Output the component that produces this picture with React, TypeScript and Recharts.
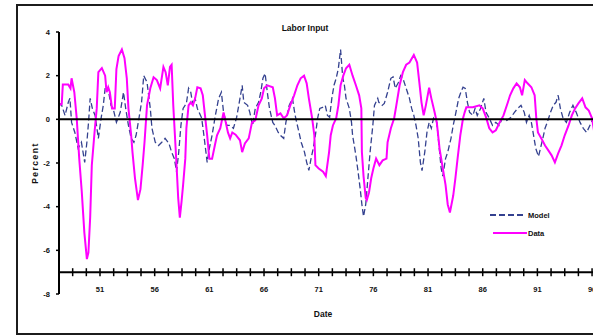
import React from "react";
import { LineChart, Line, XAxis, YAxis, ReferenceLine } from "recharts";

const modelYears = [
  47.2, 47.5, 47.8, 48.1, 48.25, 48.4, 48.7, 49.0, 49.3, 49.6, 49.8, 49.95, 50.1, 50.3, 50.55, 50.85,
  51.1, 51.3, 51.5, 51.8, 52.0, 52.2, 52.5, 52.85, 53.15, 53.35, 53.6, 53.85, 54.1, 54.3, 54.5, 54.8,
  55.0, 55.3, 55.45, 55.6, 55.75, 56.05, 56.35, 56.65, 56.95, 57.3, 57.55, 57.8, 58.0, 58.2, 58.4, 58.6,
  58.9, 59.1, 59.3, 59.5, 59.7, 59.9, 60.3, 60.5, 60.8, 61.0, 61.25, 61.55, 61.85, 62.1, 62.3, 62.6,
  62.9, 63.2, 63.5, 63.85, 64.0, 64.15, 64.5, 64.7, 64.95, 65.2, 65.5, 65.7, 65.9, 66.1, 66.3, 66.5,
  66.8, 67.0, 67.3, 67.5, 67.8, 68.0, 68.3, 68.6, 68.8, 68.9, 69.2, 69.4, 69.7, 69.9, 70.1, 70.3,
  70.5, 70.7, 70.9, 71.1, 71.35, 71.6, 71.8, 72.0, 72.2, 72.4, 72.6, 72.8, 73.0, 73.2, 73.35, 73.5,
  73.8, 74.0, 74.1, 74.4, 74.6, 74.8, 74.95, 75.1, 75.3, 75.5, 75.7, 75.95, 76.1, 76.4, 76.5, 76.8,
  77.0, 77.3, 77.6, 77.8, 78.0, 78.3, 78.5, 78.7, 79.0, 79.3, 79.5, 79.7, 79.9, 80.1, 80.3, 80.45,
  80.7, 80.9, 81.1, 81.3, 81.5, 81.8, 82.0, 82.2, 82.35, 82.6, 82.8, 83.1, 83.3, 83.55, 83.8, 84.0,
  84.2, 84.4, 84.6, 84.8, 85.1, 85.3, 85.5, 85.8, 86.1, 86.3, 86.6, 86.9, 87.2, 87.5, 87.8, 88.2,
  88.6, 88.9, 89.2, 89.5, 89.8, 90.0, 90.25, 90.45, 90.65, 90.85, 91.1, 91.2, 91.5, 91.7, 91.9, 92.2,
  92.45, 92.7, 92.9, 93.1, 93.35, 93.65, 93.95, 94.25, 94.55, 94.9, 95.2, 95.5, 95.8, 96.1, 96.3, 96.9,
];
const modelValues = [
  0.78, 0.64, 0.18, 0.78, 0.96, -0.14, -0.6, -1.33, -1.05, -1.97, -1.05, -0.14, 0.96, 0.5, 0.18, -0.87,
  0.05, 0.64, 1.56, 1.24, 0.64, 0.5, -0.14, 0.32, 1.24, 0.5, -0.28, -0.87, -1.05, -0.73, -0.14, 0.78,
  2.0, 1.7, 1.1, 0.5, -0.41, -1.05, -1.2, -1.05, -0.87, -1.1, -1.5, -1.8, -2.4, -1.5, -0.28, 0.5,
  0.73, 1.42, 1.24, 0.64, 0.96, 0.5, 0.05, -0.73, -1.97, -1.33, -0.73, 0.18, 0.96, 1.24, 0.32, -0.28,
  -0.28, -0.41, 0.1, 1.1, 1.56, 0.78, 0.64, 0.32, -0.28, 0.5, 0.78, 1.24, 1.88, 2.1, 1.24, 0.5,
  -0.14, -0.28, -0.6, -0.73, -0.87, -0.14, 0.64, 0.96, 0.32, 0.05, -0.6, -1.05, -1.5, -1.97, -2.34, -1.8,
  -1.33, -0.73, 0.05, 0.5, 0.55, 0.64, 0.18, 0.1, 0.96, 1.56, 1.88, 2.34, 3.2, 1.9, 1.56, 0.96,
  0.5, -0.14, -0.73, -1.65, -2.4, -3.2, -3.9, -4.45, -3.9, -2.7, -1.5, -0.28, 0.64, 0.96, 0.78, 0.64,
  0.73, 1.24, 1.88, 1.95, 1.42, 1.7, 2.0, 1.88, 1.42, 0.96, 0.5, 0.18, -0.28, -0.87, -1.97, -2.35,
  -1.5, -0.6, -0.14, -0.41, 0.05, -0.14, -1.2, -2.25, -2.6, -1.8, -1.5, -0.87, -0.28, 0.32, 0.96, 1.24,
  1.47, 1.42, 0.78, 0.32, 0.18, 0.5, 0.18, 0.5, 0.96, 0.32, 0.05, -0.28, -0.14, -0.28, 0.05, -0.05,
  0.1, 0.32, 0.5, 0.64, 0.32, -0.14, 0.18, -0.14, -0.73, -1.33, -1.7, -1.5, -0.87, -0.41, -0.14, 0.32,
  0.64, 0.78, 1.1, 0.5, 0.05, -0.14, 0.32, 0.64, 0.32, -0.14, -0.41, -0.6, -0.28, 0.05, -0.14, 0.2,
];

const dataYears = [
  47.2, 47.5, 47.6, 48.1, 48.3, 48.4, 48.65, 48.87, 49.1, 49.33, 49.57, 49.8, 49.94, 50.1, 50.25, 50.5,
  50.7, 50.85, 51.17, 51.47, 51.6, 51.75, 51.9, 52.1, 52.35, 52.5, 52.7, 53.0, 53.24, 53.45, 53.6, 53.85,
  53.97, 54.2, 54.47, 54.7, 54.9, 55.07, 55.3, 55.6, 55.9, 56.2, 56.5, 56.8, 57.0, 57.2, 57.4, 57.55,
  57.7, 57.85, 58.0, 58.15, 58.3, 58.45, 58.6, 58.8, 58.9, 59.1, 59.3, 59.5, 59.7, 59.9, 60.2, 60.4,
  60.6, 60.8, 61.0, 61.25, 61.5, 61.7, 62.0, 62.3, 62.5, 62.7, 62.9, 63.1, 63.4, 63.8, 64.0, 64.25,
  64.6, 64.9, 65.2, 65.5, 65.8, 66.0, 66.3, 66.8, 67.0, 67.2, 67.5, 67.8, 68.1, 68.4, 68.75, 69.05,
  69.35, 69.66, 69.9, 70.1, 70.4, 70.6, 70.7, 71.0, 71.4, 71.65, 71.95, 72.1, 72.3, 72.6, 72.8, 73.0,
  73.25, 73.5, 73.8, 74.1, 74.4, 74.7, 74.9, 74.95, 75.1, 75.3, 75.4, 75.6, 75.8, 76.0, 76.25, 76.55,
  76.85, 77.2, 77.3, 77.6, 77.9, 78.1, 78.4, 78.7, 79.0, 79.3, 79.7, 80.0, 80.2, 80.4, 80.6, 80.8,
  81.1, 81.3, 81.6, 81.8, 82.05, 82.3, 82.6, 82.8, 83.0, 83.3, 83.5, 83.7, 83.95, 84.2, 84.35, 84.5,
  85.1, 85.7, 86.0, 86.3, 86.6, 86.9, 87.2, 87.55, 87.9, 88.3, 88.5, 88.8, 89.1, 89.4, 89.6, 89.85,
  90.1, 90.45, 90.75, 90.9, 91.05, 91.35, 91.7, 92.0, 92.3, 92.6, 92.9, 93.2, 93.5, 93.85, 94.15, 94.45,
  94.75, 95.1, 95.4, 95.7, 96.0, 96.2, 96.6,
];
const dataValues = [
  0.64, 0.7, 1.59, 1.59, 1.42, 1.88, 1.24, 0.05, -1.8, -3.3, -5.2, -6.4, -6.1, -4.5, -2.1, -0.6,
  0.5, 2.16, 2.35, 2.0, 1.24, 1.47, 1.24, 0.5, 0.5, 2.3, 2.9, 3.2, 2.8, 1.88, 0.5, -0.73,
  -1.5, -2.7, -3.7, -3.2, -2.1, -1.05, 0.64, 1.42, 1.93, 1.8, 1.42, 2.4, 2.16, 1.56, 2.4, 2.5,
  0.64, -0.73, -2.1, -3.6, -4.5, -3.8, -3.0, -1.8, -0.4, 0.64, 0.78, 0.64, 0.96, 1.47, 1.42, 1.1,
  0.18, -0.73, -1.8, -1.8, -1.2, -0.73, -0.41, 0.32, -0.14, -0.6, -0.87, -0.6, -0.7, -0.96, -1.5, -1.1,
  -0.87, -0.14, -0.05, 0.64, 0.96, 1.42, 1.56, 1.47, 0.96, 0.18, 0.27, 0.05, 0.18, 0.64, 1.1, 1.56,
  1.88, 2.0, 1.65, 0.96, 0.05, -0.73, -2.1, -2.25, -2.4, -2.6, -1.5, -0.73, -0.28, 0.05, 0.64, 1.56,
  2.0, 2.34, 2.5, 2.0, 1.56, 1.1, 0.5, -1.5, -2.6, -3.6, -3.7, -3.35, -2.7, -2.25, -1.8, -2.1,
  -1.88, -1.8, -1.05, -0.41, 0.05, 0.64, 1.56, 2.16, 2.5, 2.6, 2.95, 2.6, 1.7, 0.78, 0.18, 0.64,
  1.45, 0.96, 0.32, -0.14, -1.33, -2.1, -3.0, -3.9, -4.27, -3.5, -2.7, -1.8, -0.73, 0.05, 0.32, 0.55,
  0.55, 0.64, 0.5, 0.1, -0.41, -0.6, -0.5, -0.14, 0.18, 0.78, 1.1, 1.42, 1.65, 1.47, 1.1, 1.8,
  1.65, 1.47, 1.1, 0.05, -0.6, -0.87, -1.2, -1.42, -1.65, -1.97, -1.56, -1.2, -0.73, -0.28, 0.18, 0.5,
  0.73, 0.96, 0.55, 0.4, 0.05, -0.6, -0.5,
];

const yTicks = [-8, -6, -4, -2, 0, 2, 4];
// minor ticks every 5 quarters, labels every 5 years starting at 51
const xTicks = Array.from({ length: 40 }, (_, i) => 47.25 + i * 1.25).slice(1);

const modelSeries = modelYears.map((year, i) => ({ year, value: modelValues[i] }));
const dataSeries = dataYears.map((year, i) => ({ year, value: dataValues[i] }));

const FONT = '"Liberation Sans", Arial, sans-serif';
const AXIS_OFFSET = 21.8; // px between -8 (plot bottom) and -7 where the date axis sits

const XTick = (props: any) => {
  const { x, y, payload } = props;
  const v = payload.value;
  const k = (v - 51) / 5;
  const labelled = Math.abs(k - Math.round(k)) < 1e-6;
  const ay = y - AXIS_OFFSET;
  return (
    <g>
      <line x1={x} x2={x} y1={ay - 4} y2={ay + 4} stroke="#000" strokeWidth={1.5} />
      {labelled && (
        <text x={x} y={ay + 20} textAnchor="middle" fontSize={7.5} fontWeight="bold" fontFamily={FONT} fill="#111">
          {Math.round(v)}
        </text>
      )}
    </g>
  );
};

export default function App() {
  return (
    <div style={{ position: "relative", width: 593, height: 336, overflow: "hidden", background: "#fff" }}>
      <style>{"body{margin:0}"}</style>
      <div
        style={{
          position: "absolute",
          left: 16,
          top: 4,
          width: 640,
          height: 331,
          border: "2px solid #1c1c1c",
          boxSizing: "border-box",
        }}
      />
      <div style={{ position: "absolute", left: 0, top: 0 }}>
        <LineChart width={620} height={336} margin={{ top: 32, right: 17, bottom: 12, left: 19 }}>
          <XAxis
            dataKey="year"
            type="number"
            domain={[47.25, 97]}
            ticks={xTicks}
            interval={0}
            allowDataOverflow
            axisLine={false}
            tickLine={false}
            tickSize={0}
            tickMargin={0}
            height={30}
            tick={<XTick />}
          />
          <YAxis
            type="number"
            domain={[-8, 4]}
            ticks={yTicks}
            interval={0}
            width={40}
            axisLine={{ stroke: "#000", strokeWidth: 2 }}
            tickLine={{ stroke: "#000", strokeWidth: 1.5 }}
            tickSize={3}
            tickMargin={6}
            tick={{ fontSize: 7.5, fontWeight: "bold", fill: "#111", fontFamily: FONT }}
          />
          <ReferenceLine y={-7} stroke="#000" strokeWidth={2} />
          <Line
            data={modelSeries}
            dataKey="value"
            type="linear"
            stroke="#34418f"
            strokeWidth={1.3}
            strokeDasharray="6 3"
            dot={false}
            isAnimationActive={false}
          />
          <Line
            data={dataSeries}
            dataKey="value"
            type="linear"
            stroke="#ff00ff"
            strokeWidth={2}
            dot={false}
            isAnimationActive={false}
          />
          <ReferenceLine y={0} stroke="#000" strokeWidth={2} />
        </LineChart>
      </div>
      <div
        style={{
          position: "absolute",
          left: 305,
          top: 23,
          transform: "translateX(-50%)",
          fontFamily: FONT,
          fontSize: 8.5,
          fontWeight: "bold",
          color: "#111",
          whiteSpace: "nowrap",
        }}
      >
        Labor Input
      </div>
      <div
        style={{
          position: "absolute",
          left: 323,
          top: 309,
          transform: "translateX(-50%)",
          fontFamily: FONT,
          fontSize: 8.5,
          fontWeight: "bold",
          color: "#111",
        }}
      >
        Date
      </div>
      <div
        style={{
          position: "absolute",
          left: 35,
          top: 163,
          transform: "translate(-50%, -50%) rotate(-90deg)",
          fontFamily: FONT,
          fontSize: 8.5,
          fontWeight: "bold",
          letterSpacing: 1.5,
          color: "#111",
          whiteSpace: "nowrap",
        }}
      >
        Percent
      </div>
      <svg style={{ position: "absolute", left: 488, top: 208 }} width={70} height={32}>
        <line x1={2} x2={36} y1={7} y2={7} stroke="#34418f" strokeWidth={2} strokeDasharray="6 3" />
        <text x={40} y={10} fontSize={7.5} fontWeight="bold" fontFamily={FONT} fill="#111">
          Model
        </text>
        <line x1={5} x2={39} y1={25} y2={25} stroke="#ff00ff" strokeWidth={2} />
        <text x={40} y={28} fontSize={7.5} fontWeight="bold" fontFamily={FONT} fill="#111">
          Data
        </text>
      </svg>
    </div>
  );
}
